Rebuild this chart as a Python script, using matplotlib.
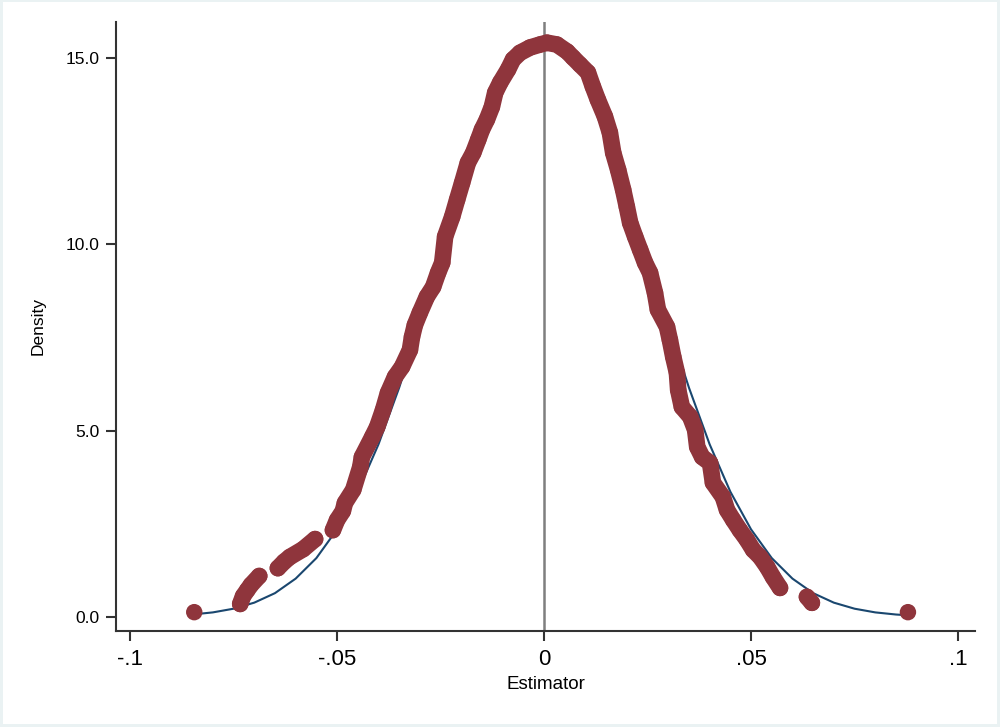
import matplotlib
matplotlib.use("Agg")
import matplotlib.pyplot as plt
import numpy as np
from matplotlib.patches import Rectangle

# Kernel density evaluated at each estimate
kd_x = [-0.0845, -0.0734, -0.0727, -0.0717, -0.0708, -0.0688, -0.0643, -0.0628,
        -0.0614, -0.0582, -0.0553, -0.0510, -0.0500, -0.0486, -0.0481, -0.0461,
        -0.0444, -0.0440, -0.0415, -0.0403, -0.0389, -0.0377, -0.0360, -0.0343,
        -0.0324, -0.0319, -0.0312, -0.0300, -0.0283, -0.0268, -0.0256, -0.0246,
        -0.0239, -0.0222, -0.0210, -0.0198, -0.0184, -0.0171, -0.0159, -0.0150,
        -0.0138, -0.0126, -0.0118, -0.0106, -0.0087, -0.0075, -0.0058, -0.0034,
        -0.0010, 0.0007, 0.0031, 0.0056, 0.0070, 0.0087, 0.0106, 0.0118,
        0.0130, 0.0147, 0.0159, 0.0167, 0.0179, 0.0191, 0.0200, 0.0208,
        0.0220, 0.0232, 0.0244, 0.0256, 0.0268, 0.0275, 0.0297, 0.0304,
        0.0312, 0.0321, 0.0324, 0.0333, 0.0353, 0.0365, 0.0370, 0.0382,
        0.0401, 0.0408, 0.0432, 0.0442, 0.0457, 0.0473, 0.0490, 0.0505,
        0.0522, 0.0539, 0.0553, 0.0570, 0.0635, 0.0647, 0.0879]
kd_y = [0.13, 0.35, 0.56, 0.72, 0.86, 1.10, 1.31, 1.48,
        1.61, 1.82, 2.09, 2.33, 2.60, 2.84, 3.06, 3.41,
        4.02, 4.29, 4.83, 5.10, 5.55, 6.01, 6.44, 6.71,
        7.16, 7.51, 7.83, 8.16, 8.59, 8.85, 9.23, 9.50,
        10.20, 10.73, 11.19, 11.64, 12.18, 12.45, 12.80, 13.07,
        13.34, 13.68, 14.06, 14.33, 14.68, 14.95, 15.13, 15.27,
        15.35, 15.40, 15.35, 15.16, 15.00, 14.81, 14.60, 14.22,
        13.87, 13.42, 12.99, 12.45, 11.99, 11.46, 11.00, 10.57,
        10.20, 9.85, 9.50, 9.23, 8.69, 8.24, 7.78, 7.43,
        6.98, 6.55, 6.09, 5.63, 5.37, 5.02, 4.56, 4.29,
        4.13, 3.60, 3.22, 2.87, 2.60, 2.33, 2.07, 1.80,
        1.61, 1.34, 1.07, 0.78, 0.54, 0.38, 0.13]

# Normal density curve
nd_x = [-0.085, -0.080, -0.075, -0.070, -0.065, -0.060, -0.055, -0.050, -0.045,
        -0.040, -0.035, -0.030, -0.025, -0.020, -0.015, -0.010, -0.005, 0.000,
        0.005, 0.010, 0.015, 0.020, 0.025, 0.030, 0.035, 0.040, 0.045,
        0.050, 0.055, 0.060, 0.065, 0.070, 0.075, 0.080, 0.085, 0.088]
nd_y = [0.067, 0.124, 0.223, 0.385, 0.64, 1.03, 1.58, 2.35, 3.36,
        4.63, 6.15, 7.86, 9.67, 11.46, 13.07, 14.37, 15.20, 15.49,
        15.20, 14.37, 13.07, 11.46, 9.67, 7.86, 6.15, 4.63, 3.36,
        2.35, 1.58, 1.03, 0.64, 0.385, 0.223, 0.124, 0.067, 0.045]

x_ticks = [-0.1, -0.05, 0, 0.05, 0.1]
x_labels = ["-.1", "-.05", "0", ".05", ".1"]
y_ticks = [0, 5, 10, 15]
y_labels = ["0.0", "5.0", "10.0", "15.0"]

RED = "#8f353c"
BLUE = "#1a476f"
AXC = "#333333"

fig = plt.figure(figsize=(10, 7.27), dpi=100)
fig.patch.set_facecolor("#eaf2f3")
fig.patches.append(Rectangle((0.003, 0.004), 0.994, 0.993, transform=fig.transFigure,
                             facecolor="white", edgecolor="none", zorder=-5))
ax = fig.add_axes([0.116, 0.132, 0.859, 0.838])
ax.set_facecolor("white")

ax.axvline(0, color="#7f7f7f", lw=1.8, zorder=1)
ax.plot(nd_x, nd_y, color=BLUE, lw=1.5, zorder=2)

# connect contiguous runs of the kernel points with a band of marker width
kx = np.array(kd_x); ky = np.array(kd_y)
gaps = np.where(np.abs(np.diff(kx)) > 0.004)[0]
starts = np.r_[0, gaps + 1]; ends = np.r_[gaps + 1, len(kx)]
for s, e in zip(starts, ends):
    if e - s > 1:
        ax.plot(kx[s:e], ky[s:e], color=RED, lw=12, solid_capstyle="round",
                solid_joinstyle="round", zorder=3)
ax.scatter(kx, ky, s=140, color=RED, edgecolors="none", zorder=4)

ax.set_xlim(-0.1034, 0.1041)
ax.set_ylim(-0.376, 15.96)
ax.spines["top"].set_visible(False)
ax.spines["right"].set_visible(False)
for sp in ("left", "bottom"):
    ax.spines[sp].set_color(AXC)
    ax.spines[sp].set_linewidth(1.5)

ax.set_xticks(x_ticks)
ax.set_xticklabels(x_labels, fontsize=16, family=["Liberation Sans", "DejaVu Sans"])
ax.set_yticks(y_ticks)
ax.set_yticklabels(y_labels, fontsize=12.5, family=["Liberation Sans", "DejaVu Sans"])
ax.tick_params(axis="both", length=7, width=1.5, color=AXC, pad=5)
ax.tick_params(axis="x", pad=6)
ax.set_xlabel("Estimator", fontsize=13.5, family=["Liberation Sans", "DejaVu Sans"], labelpad=4)
ax.set_ylabel("Density", fontsize=12.5, family=["Liberation Sans", "DejaVu Sans"], labelpad=14)

fig.savefig("out.png", dpi=100, facecolor=fig.get_facecolor())
